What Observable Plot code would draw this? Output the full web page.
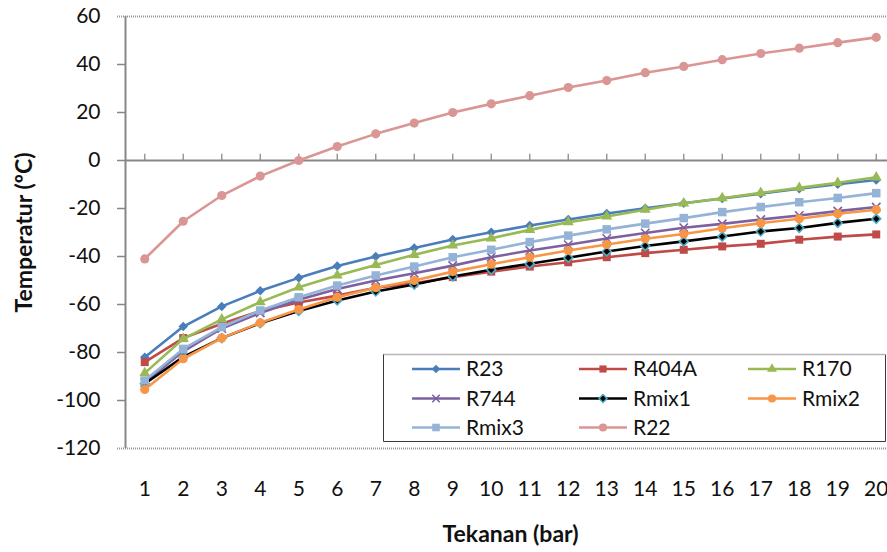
<!DOCTYPE html>
<html>
<head>
<meta charset="utf-8">
<script src="https://cdn.jsdelivr.net/npm/d3@7"></script>
<script src="https://cdn.jsdelivr.net/npm/@observablehq/plot@0.6"></script>
<style>
  body { margin: 0; background: #fff; }
  #chart { width: 887px; height: 552px; }
</style>
</head>
<body>
<div id="chart"></div>
<script>
// Pressure (bar) on the x axis
const pressure = [1, 2, 3, 4, 5, 6, 7, 8, 9, 10, 11, 12, 13, 14, 15, 16, 17, 18, 19, 20];
const yTicks = [60, 40, 20, 0, -20, -40, -60, -80, -100, -120];

// Saturation temperature (ºC) for each refrigerant
const R23   = [-82, -69.2, -60.8, -54.3, -48.9, -44, -40, -36.5, -32.9, -29.9, -27.1, -24.6, -22.1, -19.9, -17.8, -15.8, -13.8, -11.8, -9.9, -8.1];
const R404A = [-84, -74, -68, -62.7, -59.2, -56.3, -53, -51.2, -48.6, -46.3, -44.2, -42.4, -40.3, -38.6, -37.2, -35.8, -34.7, -33, -31.7, -30.8];
const R170  = [-88.6, -74.3, -66.2, -59, -52.8, -47.9, -43.5, -39.3, -35.4, -32.4, -28.9, -25.7, -23.3, -20.5, -17.8, -15.7, -13.5, -11.4, -9.3, -7];
const R744  = [-92.5, -79.5, -70, -63.5, -58, -53.5, -50, -47, -43.8, -40.3, -37.5, -35.1, -32.5, -30.2, -28, -26.4, -24.6, -22.9, -21.1, -19.4];
const Rmix1 = [-93, -81.8, -74, -67.8, -62.7, -58.3, -54.6, -51.7, -48.3, -45.5, -43, -40.5, -37.9, -35.6, -33.7, -31.7, -29.6, -28.1, -26, -24.3];
const Rmix2 = [-95.4, -82.6, -74, -67.6, -62.1, -57, -53, -50, -46.3, -43.2, -40.3, -37.5, -35, -32.6, -30.6, -28.2, -26.1, -24.3, -22.2, -20.5];
const Rmix3 = [-91.7, -78.5, -69.4, -62.5, -57, -52.1, -47.9, -44.2, -40.3, -37.2, -34, -31.3, -28.7, -26.3, -24, -21.5, -19.4, -17.4, -15.6, -13.6];
const R22   = [-41, -25.3, -14.6, -6.5, 0, 5.8, 11.1, 15.6, 20, 23.6, 27, 30.4, 33.3, 36.6, 39.2, 42, 44.6, 46.8, 49.1, 51.3];

// Drawing style of each series (line colour, marker shape and area in px²)
const series = [
  { name: "R23",   values: R23,   color: "#4A7EBB", symbol: "diamond2", area: 58, fill: "#4A7EBB" },
  { name: "R404A", values: R404A, color: "#BE4B48", symbol: "square",   area: 64, fill: "#BE4B48" },
  { name: "R170",  values: R170,  color: "#98B954", symbol: "triangle", area: 52, fill: "#98B954" },
  { name: "R744",  values: R744,  color: "#7D60A0", symbol: "times",    area: 48, fill: "none", markStroke: "#7D60A0" },
  { name: "Rmix1", values: Rmix1, color: "#000000", symbol: "diamond2", area: 50, fill: "#000000", markStroke: "#4BACC6" },
  { name: "Rmix2", values: Rmix2, color: "#F79646", symbol: "circle",   area: 66, fill: "#F79646" },
  { name: "Rmix3", values: Rmix3, color: "#95B3D7", symbol: "square",   area: 72, fill: "#95B3D7" },
  { name: "R22",   values: R22,   color: "#D99694", symbol: "circle",   area: 66, fill: "#D99694" }
];

const FONT = "Lato, 'Open Sans', sans-serif";
const FS = 21;          // tick and legend text size (px)
const TITLE_FS = 23;    // axis title size (px)
const AXIS = "#878787";

// Long table: one row per (series, pressure)
const rows = series.map(s => pressure.map((p, i) => ({ name: s.name, p, t: s.values[i] })));

const seriesMarks = series.flatMap((s, k) => [
  Plot.line(rows[k], { x: "p", y: "t", stroke: s.color, strokeWidth: 2.6, curve: "linear" }),
  Plot.dot(rows[k], {
    x: "p", y: "t", symbol: s.symbol, r: Math.sqrt(s.area / Math.PI),
    fill: s.fill,
    stroke: s.markStroke || "none",
    strokeWidth: s.markStroke ? 1.6 : 0
  })
]);

const chart = Plot.plot({
  width: 887,
  height: 552,
  marginTop: 16,
  marginBottom: 104,
  marginLeft: 125,
  marginRight: 0,
  x: { domain: [0.5, 20.5], range: [125, 895], axis: null },
  y: { domain: [-120, 60], axis: null },
  style: { fontFamily: FONT, color: "#000", background: "#fff", overflow: "visible" },
  marks: [
    // dotted border lines at the top and bottom of the value range
    Plot.ruleY([60, -120], { stroke: "#979797", strokeWidth: 2, strokeDasharray: "1 1", insetLeft: -8 }),
    // y tick marks and labels
    Plot.ruleY(yTicks.filter(d => d !== 60 && d !== -120), { x1: 0.5, x2: 0.5, insetLeft: -8, stroke: AXIS, strokeWidth: 1.5 }),
    Plot.text(yTicks, { x: 0.5, y: d => d, dx: -25, textAnchor: "end", lineAnchor: "middle", text: d => String(d), fill: "#111", fontSize: FS }),
    // vertical value axis
    Plot.ruleX([0.5], { y1: -120, y2: 60, stroke: AXIS, strokeWidth: 2 }),
    // category axis crossing at zero, with small upward ticks
    Plot.ruleX(pressure, { x: d => d, y1: 0, y2: 2.6, stroke: "#9a9a9a", strokeWidth: 1.5 }),
    Plot.ruleY([0], { stroke: AXIS, strokeWidth: 2.2 }),
    // category labels below the plot
    Plot.text(pressure, { x: d => d, frameAnchor: "bottom", lineAnchor: "middle", dy: 41, text: d => String(d), fill: "#111", fontSize: FS }),
    // axis titles
    Plot.text(["Tekanan (bar)"], { frameAnchor: "bottom", lineAnchor: "middle", textAnchor: "middle", dx: 4, dy: 86, fontWeight: "bold", fontSize: TITLE_FS, fill: "#111" }),
    Plot.text(["Temperatur (ºC)"], { frameAnchor: "left", lineAnchor: "middle", textAnchor: "middle", rotate: -90, dx: -101, fontWeight: "bold", fontSize: TITLE_FS, fill: "#111" }),
    ...seriesMarks
  ]
});

// Legend box drawn on top of the plot area
const symbols = {
  diamond2: d3.symbolDiamond2, square: d3.symbolSquare, triangle: d3.symbolTriangle,
  times: d3.symbolTimes, circle: d3.symbolCircle
};
const lg = d3.select(chart).append("g")
  .attr("font-family", FONT).attr("font-size", FS).attr("text-anchor", "start");
const box = { x: 383.5, y: 354.5, w: 502, h: 87 };
lg.append("rect").attr("x", box.x).attr("y", box.y).attr("width", box.w).attr("height", box.h).attr("fill", "#fff");
lg.append("line").attr("x1", box.x).attr("x2", box.x + box.w).attr("y1", box.y).attr("y2", box.y)
  .attr("stroke", "#6f6f6f").attr("stroke-width", 1.5).attr("stroke-dasharray", "1 1");
lg.append("path")
  .attr("d", `M${box.x},${box.y}V${box.y + box.h}H${box.x + box.w}V${box.y}`)
  .attr("fill", "none").attr("stroke", "#3a3a3a").attr("stroke-width", 1);

const colX = [412, 579, 748];
const rowY = [369, 398.5, 427.5];
series.forEach((s, i) => {
  const cx = colX[i % 3], cy = rowY[Math.floor(i / 3)];
  const g = lg.append("g");
  g.append("line").attr("x1", cx).attr("x2", cx + 48).attr("y1", cy).attr("y2", cy)
    .attr("stroke", s.color).attr("stroke-width", 2.6);
  g.append("path")
    .attr("transform", `translate(${cx + 24},${cy})`)
    .attr("d", d3.symbol(symbols[s.symbol], s.area * 0.8)())
    .attr("fill", s.fill)
    .attr("stroke", s.markStroke || "none")
    .attr("stroke-width", s.markStroke ? 1.5 : 0);
  g.append("text").attr("x", cx + 54).attr("y", cy).attr("dy", "0.35em").attr("fill", "#111").text(s.name);
});

document.getElementById("chart").appendChild(chart);
</script>
</body>
</html>
